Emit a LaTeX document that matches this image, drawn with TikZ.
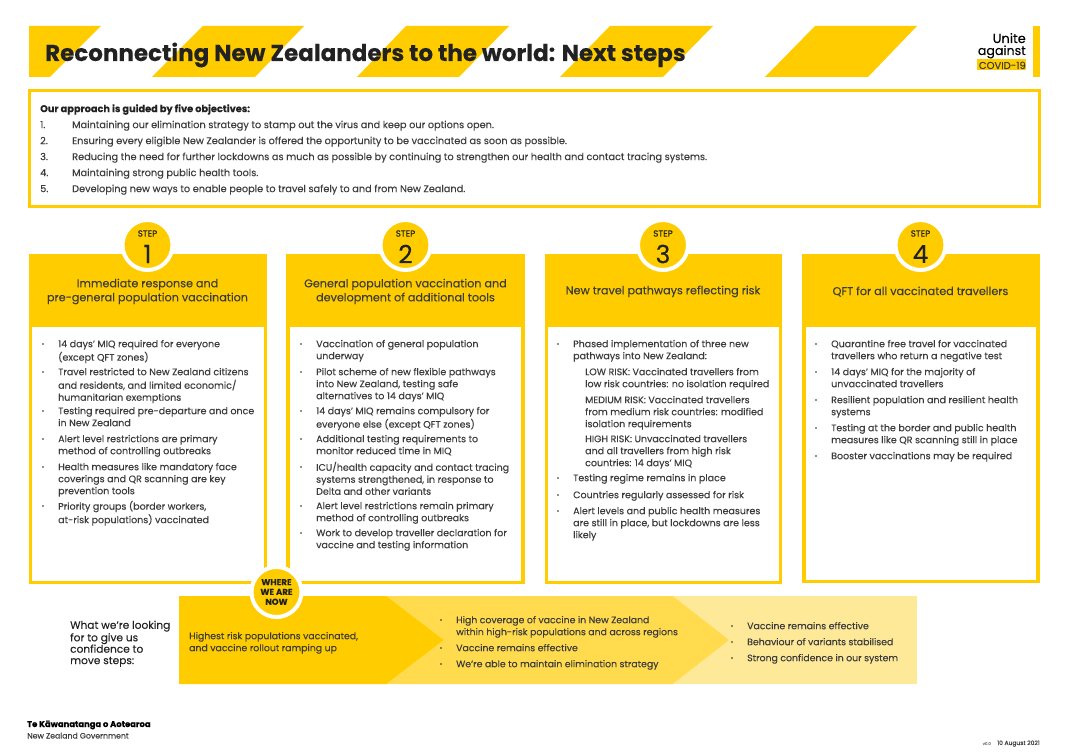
\documentclass[tikz,border=0pt]{standalone}
\usepackage{fontspec}
\setmainfont{Poppins}[FakeBold=0.08]
\definecolor{yA}{HTML}{FFCC00}
\definecolor{yB}{HTML}{FFDB4D}
\definecolor{yC}{HTML}{FEE998}
\definecolor{ink}{HTML}{3C3C3C}
\definecolor{inkd}{HTML}{222222}
\newcommand{\bodyf}{\fontsize{9.5}{12}\selectfont}
\newcommand{\objf}{\fontsize{9.75}{12}\selectfont}
\tikzset{
  stripe/.style={fill=yA,draw=none},
  txt/.style={anchor=north west,inner sep=0pt,align=left,text=ink,font=\bodyf},
  otxt/.style={txt,font=\objf},
  ctitle/.style={anchor=center,inner sep=0pt,align=center,text=ink,font=\fontsize{11.2}{14}\selectfont},
  stepc/.style={circle,fill=yA,draw=white,line width=4pt,minimum size=50pt,inner sep=0pt},
}
\newcommand{\bitem}[3]{%
  \fill[inkd] (#1-15,#2) circle (0.9);
  \node[txt] at (#1,#2-5.4) {\strut #3};}
\newcommand{\stepbox}[4]{% name, x0, x1, y1
  \fill[yA] (#2,254) rectangle (#3,#4);
  \fill[white] (#2+3.5,327) rectangle (#3-3.5,#4-3.5);}
\newcommand{\stepcirc}[3]{%
  \node[stepc] (#1) at (#2,245) {};
  \node[anchor=center,inner sep=0pt,text=inkd,font=\fontsize{8.8}{9}\selectfont] at (#2,233.5) {STEP};
  \node[anchor=center,inner sep=0pt,text=inkd,font=\fontsize{25}{26}\selectfont] at (#2,254) {#3};}
\begin{document}
\begin{tikzpicture}[x=1pt,y=-1pt]
\useasboundingbox (0,0) rectangle (1080,754);
\fill[white] (0,0) rectangle (1080,754);
% stripes
\fill[stripe] (29,26) -- (101,26) -- (50,77) -- (29,77) -- cycle;
\fill[stripe] (203,26) -- (304,26) -- (255,77) -- (152,77) -- cycle;
\fill[stripe] (406,26) -- (509,26) -- (459,77) -- (357,77) -- cycle;
\fill[stripe] (610,26) -- (713,26) -- (663,77) -- (560,77) -- cycle;
\fill[stripe] (815,26) -- (917,26) -- (868,77) -- (765,77) -- cycle;
\fill[stripe] (1033,26) rectangle (1040,77);
\node[anchor=base west,inner sep=0pt,text=inkd,font=\fontsize{23}{26}\selectfont\bfseries] (title) at (45,61) {Reconnecting New Zealanders to the world: Next steps};
% logo
\fill[yA] (977,59.5) rectangle (1026,70.5);
\node[anchor=base east,inner sep=0pt,text=black,font=\fontsize{13}{13}\selectfont] (unite) at (1026,43) {Unite};
\node[anchor=base east,inner sep=0pt,text=black,font=\fontsize{12.6}{13}\selectfont] (against) at (1026,55) {against};
\node[anchor=base east,inner sep=0pt,text=ink,font=\fontsize{10}{11}\selectfont] (covid) at (1026,69) {COVID-19};
% objectives
\draw[yA,line width=3pt] (29,90.5) rectangle (1039,206.5);
\node[otxt,font=\objf\bfseries,text=inkd] (obj) at (40,103.5) {\strut Our approach is guided by five objectives:};
\node[otxt] at (40,119.5) {\strut 1.};
\node[otxt] at (72,119.5) {\strut Maintaining our elimination strategy to stamp out the virus and keep our options open.};
\node[otxt] at (40,135.5) {\strut 2.};
\node[otxt] at (72,135.5) {\strut Ensuring every eligible New Zealander is offered the opportunity to be vaccinated as soon as possible.};
\node[otxt] at (40,151.5) {\strut 3.};
\node[otxt] at (72,151.5) {\strut Reducing the need for further lockdowns as much as possible by continuing to strengthen our health and contact tracing systems.};
\node[otxt] at (40,167.5) {\strut 4.};
\node[otxt] at (72,167.5) {\strut Maintaining strong public health tools.};
\node[otxt] at (40,183.5) {\strut 5.};
\node[otxt] at (72,183.5) {\strut Developing new ways to enable people to travel safely to and from New Zealand.};
% step boxes
\stepbox{s1}{28.5}{267}{584}
\stepbox{s2}{286}{524.5}{584}
\stepbox{s3}{544.5}{782}{584}
\stepbox{s4}{802}{1039.5}{583}
\stepcirc{c1}{147.5}{1}
\stepcirc{c2}{405.5}{2}
\stepcirc{c3}{663}{3}
\stepcirc{c4}{920.5}{4}
\node[ctitle] (t1) at (147.5,291.5) {Immediate response and\\pre-general population vaccination};
\node[ctitle] (t2) at (405.5,291.5) {General population vaccination and\\development of additional tools};
\node[ctitle] (t3) at (663,291.5) {New travel pathways reflecting risk};
\node[ctitle] (t4) at (920.5,291.5) {QFT for all vaccinated travellers};
% step 1
\bitem{58}{344}{14 days’ MIQ required for everyone\\(except QFT zones)}
\bitem{58}{372}{Travel restricted to New Zealand citizens\\and residents, and limited economic/\\humanitarian exemptions}
\bitem{58}{411}{Testing required pre-departure and once\\in New Zealand}
\bitem{58}{439}{Alert level restrictions are primary\\method of controlling outbreaks}
\bitem{58}{467}{Health measures like mandatory face\\coverings and QR scanning are key\\prevention tools}
\bitem{58}{506}{Priority groups (border workers,\\at-risk populations) vaccinated}
% step 2
\bitem{316}{344}{Vaccination of general population\\underway}
\bitem{316}{372}{Pilot scheme of new flexible pathways\\into New Zealand, testing safe\\alternatives to 14 days’ MIQ}
\bitem{316}{411}{14 days’ MIQ remains compulsory for\\everyone else (except QFT zones)}
\bitem{316}{439}{Additional testing requirements to\\monitor reduced time in MIQ}
\bitem{316}{467}{ICU/health capacity and contact tracing\\systems strengthened, in response to\\Delta and other variants}
\bitem{316}{506}{Alert level restrictions remain primary\\method of controlling outbreaks}
\bitem{316}{533}{Work to develop traveller declaration for\\vaccine and testing information}
% step 3
\bitem{573}{344}{Phased implementation of three new\\pathways into New Zealand:}
\node[txt] at (585,366.6) {\strut LOW RISK: Vaccinated travellers from\\low risk countries: no isolation required};
\node[txt] at (585,394.6) {\strut MEDIUM RISK: Vaccinated travellers\\from medium risk countries: modified\\isolation requirements};
\node[txt] at (585,433.6) {\strut HIGH RISK: Unvaccinated travellers\\and all travellers from high risk\\countries: 14 days’ MIQ};
\bitem{573}{478}{Testing regime remains in place}
\bitem{573}{495}{Countries regularly assessed for risk}
\bitem{573}{511}{Alert levels and public health measures\\are still in place, but lockdowns are less\\likely}
% step 4
\bitem{831}{344}{Quarantine free travel for vaccinated\\travellers who return a negative test}
\bitem{831}{372}{14 days’ MIQ for the majority of\\unvaccinated travellers}
\bitem{831}{400}{Resilient population and resilient health\\systems}
\bitem{831}{428}{Testing at the border and public health\\measures like QR scanning still in place}
\bitem{831}{456}{Booster vaccinations may be required}
% confidence band
\fill[yC] (672,596) rectangle (917,684);
\fill[yB] (386,596) -- (672.6,596) -- (729,640) -- (672.6,684) -- (386,684) -- cycle;
\fill[yA] (179,596) -- (386,596) -- (443.5,640) -- (386,684) -- (179,684) -- cycle;
\node[stepc] (now) at (276.5,592) {};
\node[anchor=center,inner sep=0pt,align=center,text=inkd,font=\fontsize{8.6}{9.8}\selectfont\bfseries] at (276.5,592) {WHERE\\WE ARE\\NOW};
\node[txt,font=\fontsize{10.6}{11.4}\selectfont,text=inkd] (look) at (70,620.5) {\strut What we’re looking\\for to give us\\confidence to\\move steps:};
\renewcommand{\bodyf}{\fontsize{9.35}{12}\selectfont}
\node[txt] (a1) at (189,630.6) {\strut Highest risk populations vaccinated,\\and vaccine rollout ramping up};
\bitem{456}{620}{High coverage of vaccine in New Zealand\\within high-risk populations and across regions}
\bitem{456}{648}{Vaccine remains effective}
\bitem{456}{664}{We’re able to maintain elimination strategy}
\bitem{747}{626}{Vaccine remains effective}
\bitem{747}{642}{Behaviour of variants stabilised}
\bitem{747}{658}{Strong confidence in our system}
% footer
\node[anchor=base west,inner sep=0pt,text=black,font=\fontsize{8.4}{9}\selectfont\bfseries] (gov1) at (27,727) {Te Kāwanatanga o Aotearoa};
\node[anchor=base west,inner sep=0pt,text=ink,font=\fontsize{7.8}{9}\selectfont] (gov2) at (27,738.5) {New Zealand Government};
\node[anchor=base east,inner sep=0pt,text=gray,font=\fontsize{4}{5}\selectfont] (ver) at (991,745) {v0.0};
\node[anchor=base east,inner sep=0pt,text=ink,font=\fontsize{6}{7}\selectfont] (date) at (1040,745) {10 August 2021};
\end{tikzpicture}
\end{document}
